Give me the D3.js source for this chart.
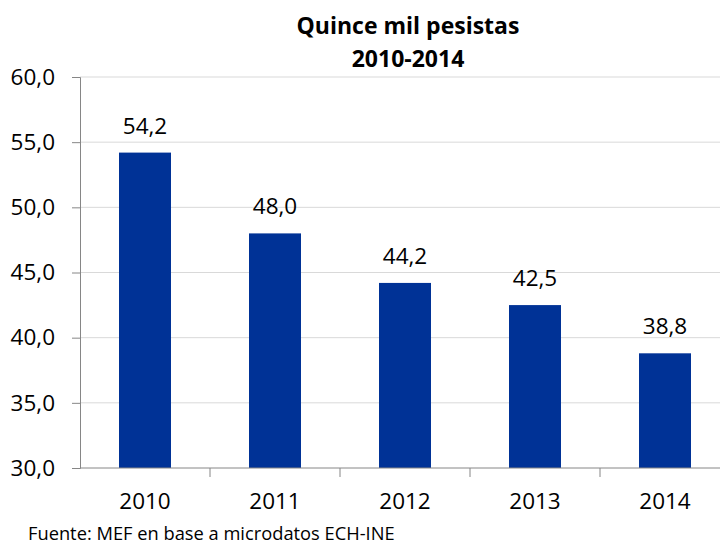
<!DOCTYPE html>
<html>
<head>
<meta charset="utf-8">
<script src="https://cdn.jsdelivr.net/npm/d3@7"></script>
<style>
  body { margin: 0; background: #fff; }
  text { font-family: "Open Sans", "Noto Sans", sans-serif; fill: #000; }
</style>
</head>
<body>
<div id="chart"></div>
<script>
// data
var years = ["2010", "2011", "2012", "2013", "2014"];
var values = [54.2, 48.0, 44.2, 42.5, 38.8];
var yTicks = [30, 35, 40, 45, 50, 55, 60];

var width = 720, height = 544;

var svg = d3.select("#chart").append("svg")
    .attr("width", width)
    .attr("height", height);

var x = d3.scaleBand().domain(years).range([80, 730]).paddingInner(0.6).paddingOuter(0.3);
var y = d3.scaleLinear().domain([30, 60]).range([468, 77]);

var fmt = function(v) { return d3.format(".1f")(v).replace(".", ","); };

// gridlines
svg.append("g").selectAll("line")
    .data(yTicks.slice(1))
    .enter().append("line")
    .attr("x1", 80).attr("x2", 720)
    .attr("y1", function(d) { return y(d); })
    .attr("y2", function(d) { return y(d); })
    .attr("stroke", "#d9d9d9")
    .attr("stroke-width", 1);

// bars
svg.append("g").selectAll("rect")
    .data(values)
    .enter().append("rect")
    .attr("x", function(d, i) { return x(years[i]); })
    .attr("width", x.bandwidth())
    .attr("y", function(d) { return y(d); })
    .attr("height", function(d) { return y(30) - y(d); })
    .attr("fill", "#003296");

// value labels
svg.append("g").selectAll("text")
    .data(values)
    .enter().append("text")
    .attr("x", function(d, i) { return x(years[i]) + x.bandwidth() / 2; })
    .attr("y", function(d) { return y(d) - 19; })
    .attr("text-anchor", "middle")
    .style("font-size", "22.5px")
    .text(fmt);

// y axis
var yAxis = svg.append("g")
    .attr("transform", "translate(80,0)")
    .call(d3.axisLeft(y).tickValues(yTicks).tickSize(8).tickPadding(17).tickFormat(fmt));
yAxis.selectAll("path, line").attr("stroke", "#868686");
yAxis.selectAll("text").style("font-size", "22.5px").style("font-family", "'Open Sans', sans-serif").attr("fill", "#000");

// x axis line and ticks between categories
var step = x.step();
svg.append("line")
    .attr("x1", 80).attr("x2", 720)
    .attr("y1", y(30)).attr("y2", y(30))
    .attr("stroke", "#868686");
svg.append("g").selectAll("line")
    .data(years.slice(1))
    .enter().append("line")
    .attr("x1", function(d) { return x(d) - (step - x.bandwidth()) / 2; })
    .attr("x2", function(d) { return x(d) - (step - x.bandwidth()) / 2; })
    .attr("y1", y(30)).attr("y2", y(30) + 9)
    .attr("stroke", "#868686");

// x labels
svg.append("g").selectAll("text")
    .data(years)
    .enter().append("text")
    .attr("x", function(d) { return x(d) + x.bandwidth() / 2; })
    .attr("y", 509)
    .attr("text-anchor", "middle")
    .style("font-size", "22.5px")
    .text(function(d) { return d; });

// title
svg.append("text")
    .attr("x", 408).attr("y", 34)
    .attr("text-anchor", "middle")
    .style("font-size", "23px").style("font-weight", "bold")
    .text("Quince mil pesistas");
svg.append("text")
    .attr("x", 408).attr("y", 67)
    .attr("text-anchor", "middle")
    .style("font-size", "23px").style("font-weight", "bold")
    .text("2010-2014");

// source
svg.append("text")
    .attr("x", 28).attr("y", 540)
    .style("font-size", "18.3px")
    .text("Fuente: MEF en base a microdatos ECH-INE");
</script>
</body>
</html>
